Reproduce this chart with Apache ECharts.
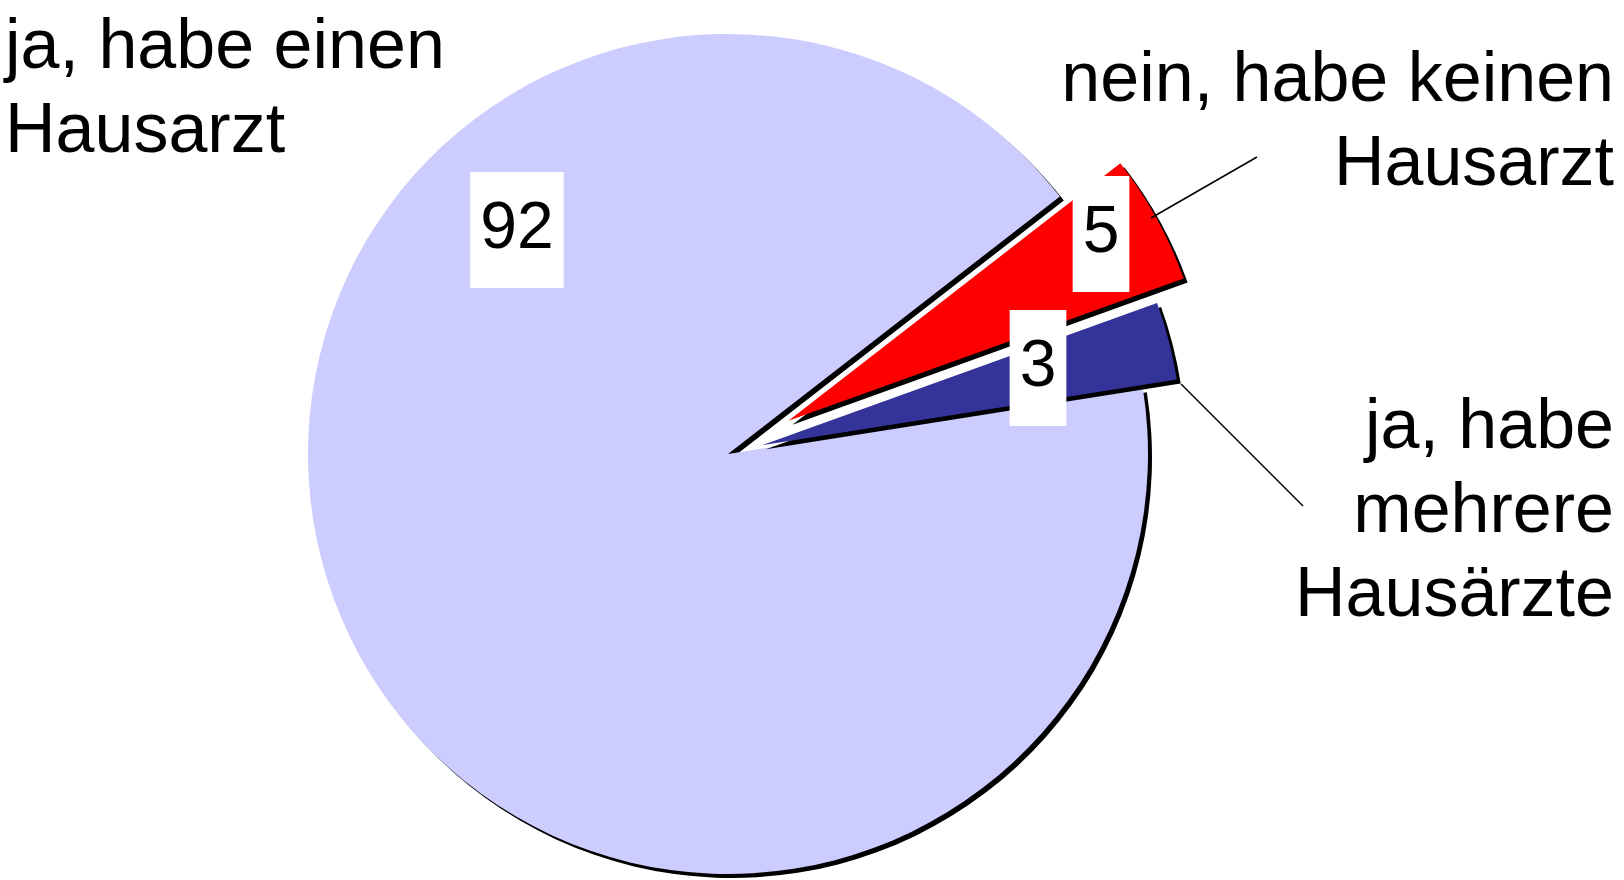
<!DOCTYPE html>
<html>
<head>
<meta charset="utf-8">
<script src="https://cdn.jsdelivr.net/npm/echarts@6/dist/echarts.min.js"></script>
<style>
  html, body { margin: 0; padding: 0; background: #fff; }
  #chart { width: 1624px; height: 880px; }
</style>
</head>
<body>
<div id="chart"></div>
<script>
// data
const categories = ['ja, habe einen\nHausarzt', 'nein, habe keinen\nHausarzt', 'ja, habe\nmehrere\nHausärzte'];
const values = [92, 5, 3];
const colors = ['#CCCCFF', '#FF0000', '#333399'];

// layout (px)
const CX = 728, CY = 454, R = 420, START = 9;
const explode = [0, 69, 35];
const valuePos = [[517, 230], [1101, 234], [1038, 368]];
const namePos = [
	{ x: 5, y: 7, align: 'left' },
	{ x: 1614, y: 40, align: 'right', line: [[1151, 218], [1257, 157]] },
	{ x: 1614, y: 387, align: 'right', line: [[1181, 384], [1303, 506]] }
];
const FONT = "'Liberation Sans', Arial, sans-serif";

// exploded slices: shift each pie along its slice's mid angle
const total = values.reduce((a, b) => a + b, 0);
let acc = 0;
const centers = values.map((v, i) => {
	const a0 = START - acc / total * 360;
	acc += v;
	const a1 = START - acc / total * 360;
	const mid = (a0 + a1) / 2 * Math.PI / 180;
	return [CX + explode[i] * Math.cos(mid), CY - explode[i] * Math.sin(mid)];
});

const hidden = { color: 'rgba(0,0,0,0)', borderWidth: 0, shadowColor: 'rgba(0,0,0,0)' };

const sliceSeries = values.map((_, i) => ({
	type: 'pie',
	center: centers[i],
	radius: R,
	startAngle: START,
	clockwise: true,
	silent: true,
	avoidLabelOverlap: false,
	emphasis: { disabled: true },
	labelLine: { show: false },
	data: values.map((v, j) => ({
		value: v,
		name: categories[j],
		itemStyle: j === i ? {
			color: colors[j],
			borderWidth: 0,
			shadowColor: '#000',
			shadowBlur: 0,
			shadowOffsetX: 4,
			shadowOffsetY: 4
		} : hidden,
		label: j === i ? {
			show: true,
			position: 'inside',
			formatter: String(v),
			color: '#000',
			fontFamily: FONT,
			fontSize: 66,
			lineHeight: 78,
			backgroundColor: '#fff',
			padding: [19, 10],
			overflow: 'none'
		} : { show: false }
	})),
	labelLayout: p => p.dataIndex === i ? {
		x: valuePos[i][0],
		y: valuePos[i][1],
		align: 'center',
		verticalAlign: 'middle'
	} : {}
}));

const nameSeries = {
	type: 'pie',
	center: [CX, CY],
	radius: R,
	startAngle: START,
	clockwise: true,
	silent: true,
	z: 5,
	avoidLabelOverlap: false,
	emphasis: { disabled: true },
	itemStyle: hidden,
	label: {
		show: true,
		position: 'outside',
		formatter: p => categories[p.dataIndex],
		color: '#000',
		fontFamily: FONT,
		fontSize: 70,
		lineHeight: 84,
		overflow: 'none'
	},
	labelLine: {
		show: true,
		smooth: false,
		lineStyle: { color: '#000', width: 1.5 }
	},
	data: values.map((v, j) => ({
		value: v,
		name: categories[j],
		labelLine: { show: !!namePos[j].line }
	})),
	labelLayout: p => {
		const pos = namePos[p.dataIndex];
		const out = { x: pos.x, y: pos.y, align: pos.align, verticalAlign: 'top' };
		if (pos.line) out.labelLinePoints = pos.line;
		return out;
	}
};

const chart = echarts.init(document.getElementById('chart'), null, { renderer: 'canvas' });
chart.setOption({
	animation: false,
	backgroundColor: '#fff',
	series: [...sliceSeries, nameSeries]
});
</script>
</body>
</html>
